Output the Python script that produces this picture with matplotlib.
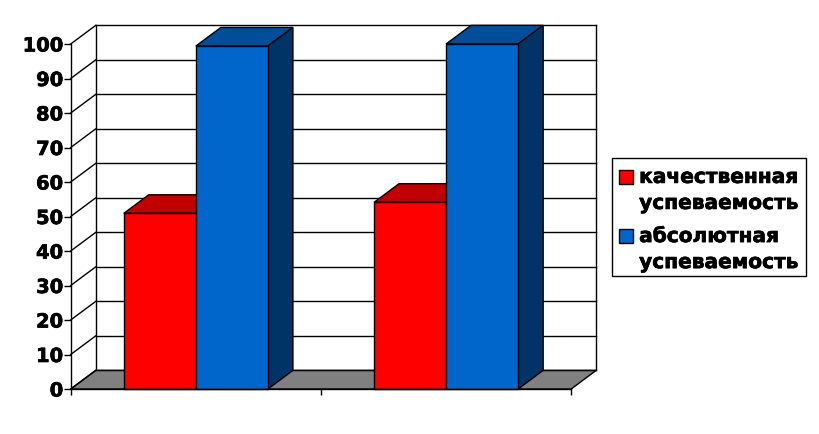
import matplotlib
matplotlib.use('Agg')
import matplotlib.pyplot as plt
import matplotlib.patheffects as pe
from matplotlib.legend_handler import HandlerPatch
from matplotlib.patches import Patch, Rectangle

# values
groups = [0, 1]
quality = [50.9, 54.1]
absolute = [99.4, 100]
yticks = list(range(0, 101, 10))
xticks = [0, 1, 2]
names = ['качественная\nуспеваемость', 'абсолютная\nуспеваемость']

RED, RED_TOP = '#ff0000', '#c00000'
BLUE, BLUE_TOP, BLUE_SIDE = '#0066cc', '#004d99', '#003366'
BAR_W = 0.288
DX, DY = 0.1, 5.4  # depth of the fake 3d, in data units

plt.rcParams['font.family'] = ['DejaVu Sans']
plt.rcParams['font.weight'] = 'bold'

fig = plt.figure(figsize=(8.19, 4.34), dpi=100)
ax = fig.add_axes([70.7 / 819, 45 / 434, 500.5 / 819, 345 / 434])
ax.set_xlim(0, 2)
ax.set_ylim(0, 100)
for s in ax.spines.values():
    s.set_visible(False)
ax.patch.set_visible(False)


def box3d(left, value, front, top, side):
    right = left + BAR_W
    ax.bar(left, value, BAR_W, align='edge', color=front, edgecolor='black',
           linewidth=1, zorder=5, clip_on=False)
    ax.fill([left, left + DX, right + DX, right],
            [value, value + DY, value + DY, value],
            facecolor=top, edgecolor='black', linewidth=1, zorder=4, clip_on=False)
    ax.fill([right, right + DX, right + DX, right],
            [0, DY, value + DY, value],
            facecolor=side, edgecolor='black', linewidth=1, zorder=4, clip_on=False)


# floor
ax.fill([0, 2, 2 + DX, DX], [0, 0, DY, DY], facecolor='#808080', edgecolor='black',
        linewidth=1, zorder=1, clip_on=False)

# walls and grid
line = dict(color='black', linewidth=1, zorder=2, clip_on=False)
for v in yticks:
    ax.plot([0, DX], [v, v + DY], **line)
    ax.plot([DX, 2 + DX], [v + DY, v + DY], **line)
ax.plot([DX, DX], [DY, 100 + DY], **line)
ax.plot([2 + DX, 2 + DX], [DY, 100 + DY], **line)
ax.plot([0, 0], [0, 100], **line)
ax.plot([0, 2], [0, 0], color='black', linewidth=1, zorder=6, clip_on=False)

for g, q in zip(groups, quality):
    box3d(g + 0.5 - BAR_W, q, RED, RED_TOP, RED_TOP)
for g, a in zip(groups, absolute):
    box3d(g + 0.5, a, BLUE, BLUE_TOP, BLUE_SIDE)

ax.set_xticks(xticks)
ax.set_xticklabels([])
ax.set_yticks(yticks)
ax.tick_params(axis='x', length=4, width=1, color='black')
ax.tick_params(axis='y', length=5, width=1, color='black', pad=0.5, labelsize=14)
heavy = [pe.withStroke(linewidth=0.5, foreground='black')]
for t in ax.get_yticklabels():
    t.set_path_effects(heavy)


# swatch sits beside the first line of the two line label
def first_line_swatch(legend, orig_handle, xdescent, ydescent, width, height, fontsize):
    return Rectangle((-xdescent, -ydescent + 10.1), width, height)


# legend frame drawn apart, the text sits a bit low in it
fig.add_artist(Rectangle((611.7 / 819, 1 - 276 / 434), 194.3 / 819, 118 / 434,
                         transform=fig.transFigure, facecolor='white',
                         edgecolor='black', linewidth=1))

handles = [Patch(facecolor=RED, edgecolor='black', linewidth=1),
           Patch(facecolor=BLUE, edgecolor='black', linewidth=1)]
leg = fig.legend(handles, names, loc='center', bbox_to_anchor=(709 / 819, 1 - 220 / 434),
                 fontsize=14.5, frameon=False, handlelength=0.7, handleheight=0.7,
                 handletextpad=0.3, labelspacing=0.7, borderpad=0.33, borderaxespad=0,
                 handler_map={Patch: HandlerPatch(patch_func=first_line_swatch)})
for t in leg.get_texts():
    t.set_linespacing(1.47)
    t.set_path_effects(heavy)

fig.savefig('out.png', dpi=100)
